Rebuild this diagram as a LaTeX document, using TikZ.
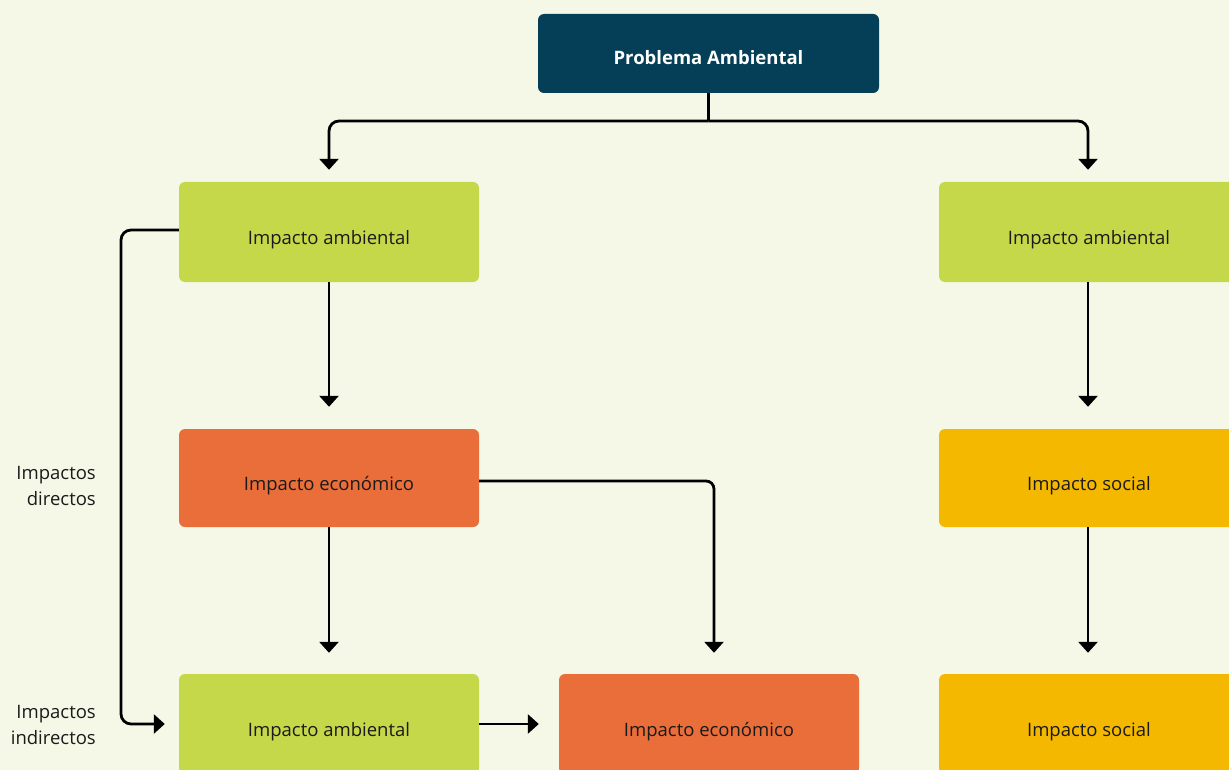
\documentclass[tikz,border=0pt]{standalone}
\usepackage{fontspec}
\setmainfont{Open Sans}
\usetikzlibrary{arrows.meta,calc}
\definecolor{bg}{HTML}{F5F8E7}
\definecolor{navy}{HTML}{043F57}
\definecolor{lime}{HTML}{C4D84A}
\definecolor{orng}{HTML}{EA6E3A}
\definecolor{gold}{HTML}{F5B800}
\definecolor{ink}{HTML}{1A1A1A}
\tikzset{
  box/.style={rectangle, rounded corners=6pt, minimum width=300pt, minimum height=100pt,
    inner sep=0pt, text=ink, font=\fontsize{18.5}{22}\selectfont,
    text height=28pt, text depth=3pt},
  topbox/.style={box, fill=navy, text=white, minimum width=341pt, minimum height=79pt,
    font=\fontsize{18.5}{22}\selectfont\bfseries, text height=25pt, text depth=3pt},
  envbox/.style={box, fill=lime},
  ecobox/.style={box, fill=orng},
  socbox/.style={box, fill=gold},
  sidelabel/.style={anchor=east, align=right, inner sep=0pt, text=ink,
    font=\fontsize{18.5}{26.7}\selectfont},
  arr/.style={line width=2.8pt, draw=black, -{Triangle[width=19pt,length=11pt]}},
  link/.style={line width=2.8pt, draw=black},
}
\begin{document}
\begin{tikzpicture}[x=1pt,y=-1pt]
\useasboundingbox (0,0) rectangle (1229,770);
\clip (0,0) rectangle (1229,770);
\fill[bg] (0,0) rectangle (1229,770);

\node[topbox] (top) at (708.5,53.5) {Problema Ambiental};

\node[envbox] (a1) at (329,232) {Impacto ambiental};
\node[ecobox, minimum height=98pt] (e1) at (329,478) {Impacto económico};
\node[envbox] (a2) at (329,724) {Impacto ambiental};
\node[ecobox] (e2) at (709,724) {Impacto económico};

\node[envbox] (a3) at (1089,232) {Impacto ambiental};
\node[socbox, minimum height=98pt] (s1) at (1089,478) {Impacto social};
\node[socbox] (s2) at (1089,724) {Impacto social};

\node[sidelabel] (ld) at (96,486) {Impactos\\directos};
\node[sidelabel] (li) at (96,725) {Impactos\\indirectos};

\coordinate (split) at (708.5,121);
\coordinate (loopx) at (121,0);

\draw[link] (top.south) -- (split);
\draw[arr, rounded corners=10pt] (split) -| ([yshift=12pt]a1.north);
\draw[arr, rounded corners=10pt] (split) -| ([xshift=-1pt,yshift=12pt]a3.north);

\draw[arr] (a1.south) -- ([yshift=22pt]e1.north);
\draw[arr] (e1.south) -- ([yshift=21pt]a2.north);
\draw[arr] ([xshift=-1pt]a3.south) -- ([xshift=-1pt,yshift=22pt]s1.north);
\draw[arr] ([xshift=-1pt]s1.south) -- ([xshift=-1pt,yshift=21pt]s2.north);

\draw[arr, rounded corners=10pt] ([yshift=2pt]a1.west) -- ([yshift=2pt]a1.west -| loopx) |- ([xshift=-14pt]a2.west);
\draw[arr] (a2.east) -- ([xshift=-20pt]e2.west);
\draw[arr, rounded corners=8pt] ([yshift=-3pt]e1.east) -| ([xshift=5pt,yshift=21pt]e2.north);
\end{tikzpicture}
\end{document}
